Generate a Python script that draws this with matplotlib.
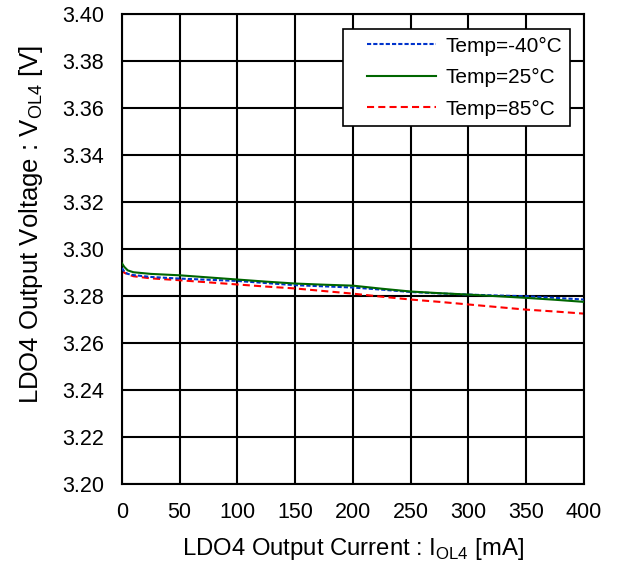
import numpy as np
import matplotlib
matplotlib.use('Agg')
import matplotlib.pyplot as plt
from matplotlib.legend_handler import HandlerLine2D

plt.rcParams['font.family'] = ['Liberation Sans', 'DejaVu Sans']
plt.rcParams['mathtext.fontset'] = 'custom'
plt.rcParams['mathtext.rm'] = 'Liberation Sans'
plt.rcParams['font.size'] = 15

current = [0, 2, 5, 10, 25, 50, 75, 100, 125, 150, 175, 200, 225, 250, 275, 300, 325, 350, 375, 400]
v_m40 = [3.2920, 3.2905, 3.2895, 3.2890, 3.2882, 3.2875, 3.2870, 3.2865, 3.2856, 3.2847,
         3.2842, 3.2837, 3.2828, 3.2818, 3.2812, 3.2807, 3.2803, 3.2800, 3.2793, 3.2786]
v_25 = [3.2940, 3.2925, 3.2910, 3.2902, 3.2895, 3.2889, 3.2880, 3.2871, 3.2862, 3.2854,
        3.2849, 3.2845, 3.2832, 3.2820, 3.2813, 3.2807, 3.2800, 3.2793, 3.2785, 3.2776]
v_85 = [3.2915, 3.2900, 3.2893, 3.2885, 3.2876, 3.2868, 3.2859, 3.2850, 3.2841, 3.2833,
        3.2822, 3.2811, 3.2798, 3.2786, 3.2776, 3.2765, 3.2754, 3.2743, 3.2735, 3.2726]
labels = ['Temp=-40°C', 'Temp=25°C', 'Temp=85°C']


class ShiftedLine(HandlerLine2D):
    # leave some room on the left of the legend sample line
    def get_xdata(self, legend, xdescent, ydescent, width, height, fontsize):
        x0 = -xdescent + 0.8 * fontsize
        xd = np.array([x0, width - xdescent])
        return xd, xd


fig = plt.figure(figsize=(6.19, 5.69), dpi=100)
ax = fig.add_axes([0.197, 0.149, 0.746, 0.826])

l1, = ax.plot(current, v_m40, color='#0033cc', linewidth=1.5, dashes=(2.0, 1.0), label=labels[0], zorder=3)
l2, = ax.plot(current, v_25, color='#006600', linewidth=1.5, label=labels[1], zorder=4)
l3, = ax.plot(current, v_85, color='#ff0000', linewidth=1.5, dashes=(3.4, 2.0), label=labels[2], zorder=2)

ax.set_xlim(0, 400)
ax.set_ylim(3.20, 3.40)
ax.set_xticks(np.arange(0, 401, 50))
ax.set_yticks(np.arange(3.20, 3.401, 0.02))
ax.yaxis.set_major_formatter(matplotlib.ticker.FormatStrFormatter('%.2f'))
ax.tick_params(length=0, pad=13, labelsize=15.5)
ax.grid(True, color='black', linewidth=1.5)
for s in ax.spines.values():
    s.set_linewidth(1.5)

ax.set_xlabel(r'LDO4 Output Current : I$_{\mathregular{OL4}}$ [mA]', fontsize=17.2, labelpad=9)
ax.set_ylabel(r'LDO4 Output Voltage : V$_{\mathregular{OL4}}$ [V]', fontsize=18.5, labelpad=12, y=0.553)

h = ShiftedLine()
leg = ax.legend(loc='upper right', bbox_to_anchor=(0.97, 0.968), fancybox=False,
                edgecolor='black', framealpha=1, fontsize=15, handlelength=4.11,
                handletextpad=0.48, borderpad=0.35, labelspacing=0.6, borderaxespad=0,
                handler_map={l1: h, l2: h, l3: h})
leg.get_frame().set_linewidth(1.2)

plt.savefig('out.png', dpi=100)
